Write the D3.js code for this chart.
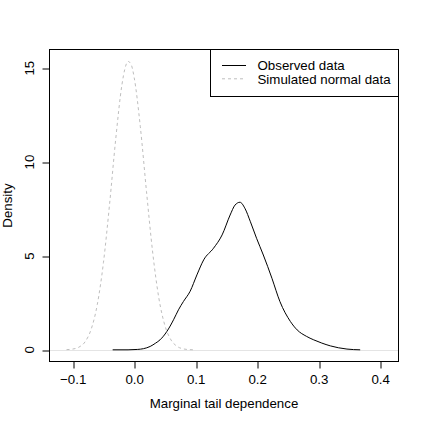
<!DOCTYPE html>
<html>
<head>
<meta charset="utf-8">
<script src="https://cdn.jsdelivr.net/npm/d3@7"></script>
<style>
  body { margin: 0; background: #fff; }
  text { font-family: "Liberation Sans", Arial, sans-serif; font-size: 13.3px; fill: #000; }
</style>
</head>
<body>
<div id="chart"></div>
<script>
// observed density curve (x, density)
const observedX = [-0.035, -0.01, 0.005, 0.015, 0.026, 0.035, 0.042, 0.053, 0.064, 0.072, 0.080, 0.091,
  0.102, 0.113, 0.129, 0.143, 0.156, 0.164, 0.172, 0.180, 0.189, 0.199, 0.210, 0.224, 0.237,
  0.254, 0.265, 0.280, 0.292, 0.305, 0.319, 0.332, 0.346, 0.3675];
const observedY = [0, 0, 0.02, 0.06, 0.18, 0.36, 0.53, 0.97, 1.60, 2.13, 2.57, 3.12,
  3.99, 4.79, 5.41, 6.12, 7.18, 7.71, 7.86, 7.54, 6.82, 5.94, 5.05, 3.81, 2.57,
  1.51, 1.06, 0.72, 0.53, 0.36, 0.21, 0.11, 0.04, 0];

// simulated normal density curve
const normalX = [-0.11, -0.10, -0.09, -0.08, -0.07, -0.06, -0.05, -0.04, -0.03, -0.02, -0.015,
  -0.01, -0.005, 0.0, 0.01, 0.02, 0.03, 0.04, 0.05, 0.06, 0.07, 0.08, 0.09, 0.10];
const normalY = [0.01, 0.04, 0.14, 0.42, 1.09, 2.41, 4.64, 7.76, 11.23, 14.1, 14.98,
  15.36, 15.2, 14.5, 11.88, 8.44, 5.21, 2.78, 1.29, 0.52, 0.18, 0.05, 0.01, 0.0];

const xTicks = [-0.1, 0.0, 0.1, 0.2, 0.3, 0.4];
const yTicks = [0, 5, 10, 15];
const legendLabels = ["Observed data", "Simulated normal data"];

const W = 424, H = 424;
const mLeft = 49.5, mRight = 398.5, mTop = 49.5, mBottom = 361.5;

const svg = d3.select("#chart").append("svg")
  .attr("width", W).attr("height", H);
svg.append("rect").attr("width", W).attr("height", H).attr("fill", "#fff");

const x = d3.scaleLinear().domain([-0.1377, 0.4298]).range([mLeft, mRight]);
const y = d3.scaleLinear().domain([-0.622, 15.995]).range([mBottom, mTop]);

// zero line
svg.append("line")
  .attr("x1", mLeft).attr("x2", mRight)
  .attr("y1", Math.round(y(0)) + 0.5).attr("y2", Math.round(y(0)) + 0.5)
  .attr("stroke", "#e4e4e4").attr("stroke-width", 1);

const line = d3.line()
  .x(d => x(d[0]))
  .y(d => y(d[1]))
  .curve(d3.curveMonotoneX);

svg.append("path")
  .datum(normalX.map((v, i) => [v, normalY[i]]))
  .attr("d", line)
  .attr("fill", "none")
  .attr("stroke", "#bebebe")
  .attr("stroke-width", 1)
  .attr("stroke-dasharray", "3,3");

svg.append("path")
  .datum(observedX.map((v, i) => [v, observedY[i]]))
  .attr("d", line)
  .attr("fill", "none")
  .attr("stroke", "#000")
  .attr("stroke-width", 1);

// box
svg.append("rect")
  .attr("x", mLeft).attr("y", mTop)
  .attr("width", mRight - mLeft).attr("height", mBottom - mTop)
  .attr("fill", "none").attr("stroke", "#000");

// x axis
const xAxis = svg.append("g")
  .attr("transform", `translate(0,${mBottom})`)
  .call(d3.axisBottom(x).tickValues(xTicks).tickSize(7).tickPadding(0)
    .tickFormat(d => d3.format(".1f")(d).replace("-", "\u2212")));
xAxis.select(".domain").remove();
xAxis.selectAll("line").attr("stroke", "#000")
  .attr("transform", d => `translate(${Math.round(x(d)) + 0.5 - x(d)},0)`);
xAxis.selectAll("text")
  .attr("y", 22).attr("dy", null);
xAxis.attr("font-size", null).attr("font-family", null);

// y axis
const yAxis = svg.append("g")
  .attr("transform", `translate(${mLeft},0)`)
  .call(d3.axisLeft(y).tickValues(yTicks).tickSize(7).tickFormat(""));
yAxis.select(".domain").remove();
yAxis.selectAll("line").attr("stroke", "#000")
  .attr("transform", d => `translate(0,${Math.round(y(d)) + 0.5 - y(d)})`);

svg.selectAll(".ylab")
  .data(yTicks)
  .enter().append("text")
  .attr("class", "ylab")
  .attr("text-anchor", "middle")
  .attr("transform", d => `translate(34,${y(d)}) rotate(-90)`)
  .text(d => d);

// axis titles
svg.append("text")
  .attr("x", (mLeft + mRight) / 2).attr("y", 407.5)
  .attr("text-anchor", "middle")
  .text("Marginal tail dependence");

svg.append("text")
  .attr("text-anchor", "middle")
  .attr("transform", `translate(11.5,${(mTop + mBottom) / 2}) rotate(-90)`)
  .text("Density");

// legend
const lg = svg.append("g");
lg.append("rect")
  .attr("x", 210.5).attr("y", mTop)
  .attr("width", mRight - 210.5).attr("height", 47)
  .attr("fill", "#fff").attr("stroke", "#000");

legendLabels.forEach((lab, i) => {
  const ly = 65.5 + i * 13.3;
  lg.append("line")
    .attr("x1", 222).attr("x2", 246)
    .attr("y1", ly).attr("y2", ly)
    .attr("stroke", i === 0 ? "#000" : "#bebebe")
    .attr("stroke-dasharray", i === 0 ? null : "3,3");
  lg.append("text")
    .attr("x", 257.5).attr("y", ly + 4.7)
    .text(lab);
});
</script>
</body>
</html>
